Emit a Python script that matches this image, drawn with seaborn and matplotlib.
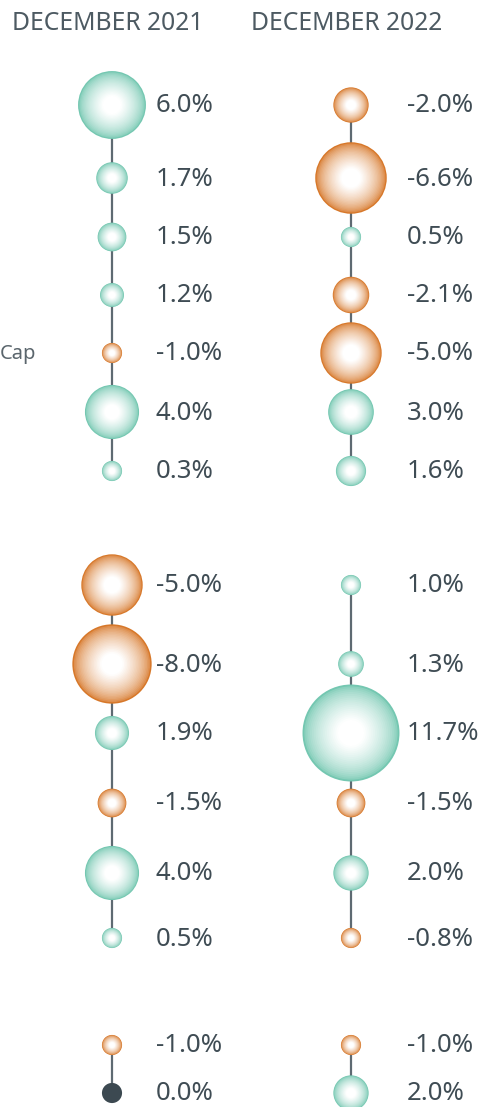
import numpy as np
import pandas as pd
import seaborn as sns
import matplotlib.pyplot as plt
from matplotlib.colors import to_rgb

# data
columns = ["DECEMBER 2021", "DECEMBER 2022"]
values_2021 = [6.0, 1.7, 1.5, 1.2, -1.0, 4.0, 0.3,
               -5.0, -8.0, 1.9, -1.5, 4.0, 0.5,
               -1.0, 0.0]
values_2022 = [-2.0, -6.6, 0.5, -2.1, -5.0, 3.0, 1.6,
               1.0, 1.3, 11.7, -1.5, 2.0, -0.8,
               -1.0, 2.0]
groups = [1] * 7 + [2] * 6 + [3] * 2
row_labels = ["", "", "", "", "Cap", "", "",
              "", "", "", "", "", "",
              "", ""]

# layout (pixel coordinates)
col_x = [112, 351]
label_x = [156, 407]
row_y = [105, 178, 237, 295, 353, 412, 471,
         585, 664, 733, 803, 873, 938,
         1045, 1093]

TEAL = "#74c7b1"
ORANGE = "#d7782a"
DARK = "#3c4951"
TEXT = "#3f4c54"
LINE = "#5e6a72"

rows = []
for c, vals in enumerate([values_2021, values_2022]):
    for i, v in enumerate(vals):
        sign = "zero" if v == 0 else ("pos" if v > 0 else "neg")
        rows.append({"col": columns[c], "x": col_x[c], "y": row_y[i], "value": v,
                     "absval": abs(v), "sign": sign, "unit": f"{c}-{groups[i]}"})
df = pd.DataFrame(rows)

sns.set_style("white")
plt.rcParams["font.family"] = ["Noto Sans", "DejaVu Sans"]

fig = plt.figure(figsize=(4.89, 11.07), dpi=100)
ax = fig.add_axes([0, 0, 1, 1])

# connector lines inside each group
sns.lineplot(data=df, x="x", y="y", units="unit", estimator=None, sort=False,
             color=LINE, lw=1.6, ax=ax, legend=False, zorder=1)


def mix(c, t):
    r = np.array(to_rgb(c))
    return tuple(r + (1 - r) * t)


# bubbles: area proportional to |value|, radial fade to white drawn as shrinking layers
smin, smax = 210, 4875
n = 26
for k in range(n):
    f = 1 - k / n
    t = min(1.0, ((1 - f) / 0.72) ** 0.6)
    pal = {"pos": mix(TEAL, t), "neg": mix(ORANGE, t), "zero": DARK}
    d = df if k == 0 else df[df.sign != "zero"]
    sns.scatterplot(data=d, x="x", y="y", size="absval", hue="sign",
                    sizes=(smin * f * f, smax * f * f), size_norm=(1.0, 11.7),
                    palette=pal, linewidth=0, legend=False, ax=ax, zorder=2 + k)

# value labels
for c, vals in enumerate([values_2021, values_2022]):
    for i, v in enumerate(vals):
        ax.text(label_x[c], row_y[i] + 1, f"{v:.1f}%",
                ha="left", va="center", fontsize=18.5, color=TEXT)

for i, lab in enumerate(row_labels):
    if lab:
        ax.text(0, row_y[i] + 1, lab, ha="left", va="center", fontsize=14.5, color="#5b666d")

for c, name in enumerate(columns):
    ax.text(col_x[c] - 4, 23, name, ha="center", va="center", fontsize=17.8,
            color="#4d5a62")

ax.set_xlim(0, 489)
ax.set_ylim(1107, 0)
ax.axis("off")

fig.savefig("out.png", dpi=100)
